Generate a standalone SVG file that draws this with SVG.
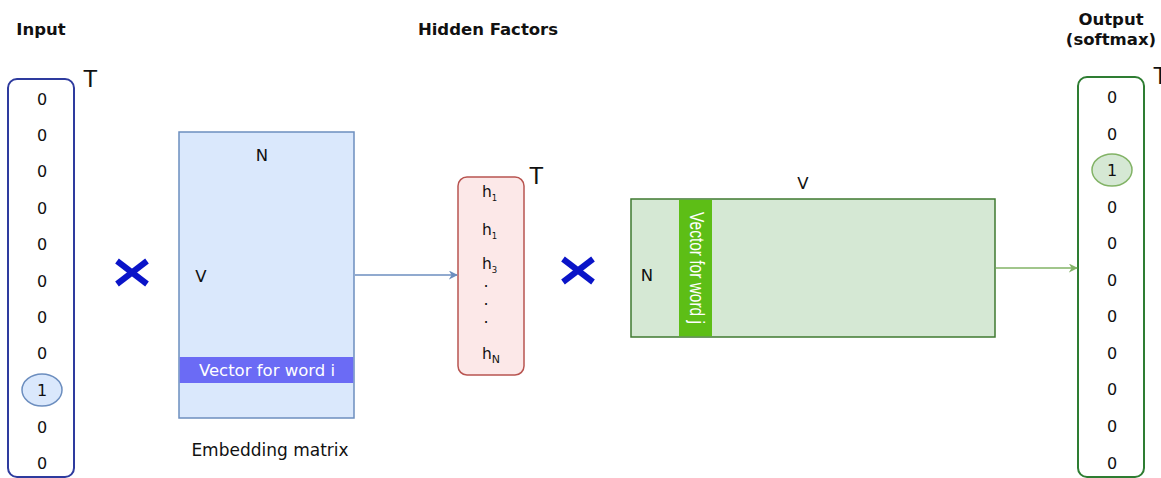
<svg xmlns="http://www.w3.org/2000/svg" width="1161" height="478" viewBox="0 0 1161 478">
<defs>
<style>
text{font-family:"DejaVu Sans","Liberation Sans",Arial,sans-serif;fill:#111}
.hd{font-weight:bold;font-size:16.5px;text-anchor:middle}
.num{font-size:16px;text-anchor:middle}
.lbl{font-size:16.5px;text-anchor:middle}
.tt{font-family:"Liberation Sans",Arial,sans-serif;font-size:24px}
.mul{stroke:#0A14C8;stroke-width:6;stroke-linecap:butt}
.h{font-size:15.5px}
.sub{font-size:8.5px}
</style>
<marker id="ab" viewBox="0 0 10 10" refX="9" refY="5" markerWidth="9" markerHeight="9" orient="auto" markerUnits="userSpaceOnUse"><path d="M0,0 L10,5 L0,10 L3,5 z" fill="#6c8ebf"/></marker>
<marker id="ag" viewBox="0 0 10 10" refX="9" refY="5" markerWidth="9" markerHeight="9" orient="auto" markerUnits="userSpaceOnUse"><path d="M0,0 L10,5 L0,10 L3,5 z" fill="#82b366"/></marker>
</defs>
<rect width="1161" height="478" fill="#fff"/>

<g id="titles">
<text class="hd" x="41" y="35">Input</text>
<text class="hd" x="488" y="35">Hidden Factors</text>
<text class="hd" x="1111" y="25">Output</text>
<text class="hd" x="1111" y="45">(softmax)</text>
</g>

<g id="input">
<rect x="8" y="79" width="66" height="398" rx="9" fill="#fff" stroke="#2E3B9E" stroke-width="2"/>
<ellipse cx="42" cy="390" rx="20" ry="16" fill="#dae8fc" stroke="#6c8ebf" stroke-width="1.5"/>
<text class="num" x="42" y="105">0</text>
<text class="num" x="42" y="141">0</text>
<text class="num" x="42" y="177">0</text>
<text class="num" x="42" y="214">0</text>
<text class="num" x="42" y="250">0</text>
<text class="num" x="42" y="287">0</text>
<text class="num" x="42" y="323">0</text>
<text class="num" x="42" y="359">0</text>
<text class="num" x="42" y="396">1</text>
<text class="num" x="42" y="433">0</text>
<text class="num" x="42" y="469">0</text>
<text class="tt" x="83" y="87">T</text>
</g>

<g id="mul1"><line class="mul" x1="117" y1="261" x2="147" y2="284"/><line class="mul" x1="147" y1="261" x2="117" y2="284"/></g>

<g id="embedding">
<rect x="179" y="132" width="175" height="286" fill="#dae8fc" stroke="#6c8ebf" stroke-width="1.5"/>
<rect x="179.75" y="357" width="173.5" height="26" fill="#6B6BF5"/>
<text class="lbl" x="262" y="161">N</text>
<text class="lbl" x="201" y="282">V</text>
<text class="lbl" x="267" y="376" style="fill:#fff;font-size:16.5px">Vector for word i</text>
<text class="lbl" x="270" y="456" style="font-size:17px">Embedding matrix</text>
</g>

<g id="hidden">
<rect x="458" y="177" width="66" height="198" rx="9" fill="#FCE8E8" stroke="#B85450" stroke-width="1.5"/>
<text class="h" x="482" y="197">h<tspan class="sub" dy="4">1</tspan></text>
<text class="h" x="482" y="235">h<tspan class="sub" dy="4">1</tspan></text>
<text class="h" x="482" y="269">h<tspan class="sub" dy="4">3</tspan></text>
<text class="num" x="486" y="287">.</text>
<text class="num" x="486" y="305">.</text>
<text class="num" x="486" y="323">.</text>
<text class="h" x="482" y="359">h<tspan style="font-size:11px" dy="4">N</tspan></text>
<text class="tt" x="529" y="184">T</text>
</g>

<g id="mul2"><line class="mul" x1="563" y1="259" x2="593" y2="282"/><line class="mul" x1="593" y1="259" x2="563" y2="282"/></g>

<g id="output-matrix">
<rect x="631" y="199" width="364" height="138" fill="#d5e8d4" stroke="#3F7A30" stroke-width="1.5"/>
<rect x="679" y="199.75" width="33" height="136.5" fill="#5DBE16"/>
<text class="lbl" x="803" y="189">V</text>
<text class="lbl" x="647" y="281">N</text>
<text transform="translate(690,268) rotate(90) scale(1,1.25)" style="fill:#fff;font-family:'Liberation Sans',Arial,sans-serif;font-size:15.5px;text-anchor:middle">Vector for word j</text>
</g>

<g id="output">
<rect x="1078" y="77" width="66" height="400" rx="9" fill="#fff" stroke="#2E7D32" stroke-width="2"/>
<ellipse cx="1112" cy="170" rx="20" ry="16" fill="#d5e8d4" stroke="#82b366" stroke-width="1.5"/>
<text class="num" x="1112" y="103">0</text>
<text class="num" x="1112" y="140">0</text>
<text class="num" x="1112" y="176">1</text>
<text class="num" x="1112" y="213">0</text>
<text class="num" x="1112" y="249">0</text>
<text class="num" x="1112" y="286">0</text>
<text class="num" x="1112" y="322">0</text>
<text class="num" x="1112" y="359">0</text>
<text class="num" x="1112" y="395">0</text>
<text class="num" x="1112" y="432">0</text>
<text class="num" x="1112" y="469">0</text>
<text class="tt" x="1153" y="84">T</text>
</g>

<g id="connectors">
<line x1="355" y1="275" x2="457" y2="275" stroke="#6c8ebf" stroke-width="1.5" marker-end="url(#ab)"/>
<line x1="996" y1="268" x2="1077" y2="268" stroke="#82b366" stroke-width="1.5" marker-end="url(#ag)"/>
</g>
</svg>
